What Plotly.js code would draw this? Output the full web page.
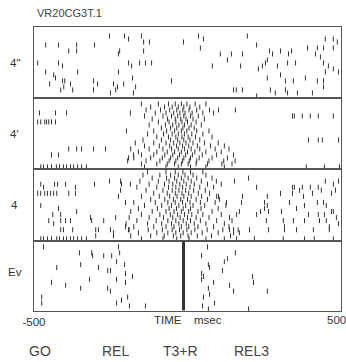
<!DOCTYPE html>
<html><head><meta charset="utf-8">
<script src="https://cdn.plot.ly/plotly-3.0.1.min.js"></script>
<style>html,body{margin:0;padding:0;background:#fff}#chart{width:346px;height:362px}</style>
</head><body><div id="chart"></div>
<script>
// ---- data (spike times in msec, trial numbers) ----
const panelNames = ['4"', "4'", '4', 'Ev'];
const xTickVals = [-500];
const xTickText = ['-500'];
const xEndLabel = '500';
const eventNames = ['GO', 'REL', 'T3+R', 'REL3'];
const evAlignTime = -13;

// Panel 4" (sparse)
const p1_t = [-254,-205,-192,-150,-143,-124,-462,-420,-361,-303,-387,-361,-221,-225,-143,-488,-420,-407,-462,-358,-192,-182,-156,-137,-117,-225,-436,-430,-407,-400,-449,-381,-306,-293,-241,-228,-208,-179,-169,-52,-413,-403,-374,-306,-251,-234,-176,
  36,52,-13,195,42,225,107,143,179,130,267,277,303,339,329,391,423,443,475,449,475,488,417,433,443,81,173,231,244,254,260,293,326,352,459,475,492,449,260,303,319,345,384,423,443,150,159,179,225,270,286,319,326,358,407,443];
const p1_r = [3,3,4,3,5,5,6,6,6,6,8,8,8,9,8,12,12,13,15,15,12,13,12,12,12,15,16,17,18,18,19,19,18,19,19,20,19,17,20,18,21,20,21,21,22,21,22,
  3,4,5,3,7,6,9,9,9,11,8,9,8,8,9,7,7,7,7,4,4,5,9,10,12,13,13,14,13,12,11,13,12,12,13,14,15,15,17,16,18,18,17,18,18,21,21,21,23,21,22,21,22,22,22,20];

// Panel 4' (sparse part)
const p2_t = [-482,-430,-394,-488,-478,-465,-459,-452,-443,-430,-186,-199,-387,-361,-345,-306,-267,-443,-420,
  -478,-469,-456,-443,-427,-417,-404,-394,-381,-371,-358,-345,-329,-192,-176,72,101,156,342,348,374,400,426,475,394,426,439,492,387,446,495];
const p2_r = [5,5,5,8,8,8,8,8,8,8,5,11,17,17,17,17,17,19,19,
  23,23,23,23,23,23,23,23,23,23,23,23,23,20,19,4,4,4,6,6,6,6,6,6,14,14,14,14,23,23,23];
// Panel 4' (burst, one list per trial, trials 2..23)
const p2_burst = [
  [-150,-95,-62,-40,-20,-2,25,60],
  [-120,-75,-50,-30,-12,8,40],
  [-135,-88,-58,-35,-15,5,30],
  [-105,-70,-45,-25,-8,15,50,85],
  [-140,-80,-52,-32,-12,10,35],
  [-115,-65,-40,-22,-5,18,55],
  [-95,-60,-38,-18,0,28],
  [-125,-72,-48,-28,-10,12,45],
  [-85,-55,-35,-15,5,22],
  [-110,-68,-42,-20,-2,30,70],
  [-130,-78,-50,-30,-10,14,50],
  [-100,-62,-38,-18,2,26,80],
  [-145,-85,-55,-32,-12,8,40],
  [-170,-110,-70,-45,-25,-5,18,55,100],
  [-140,-92,-58,-36,-16,4,32,75,120],
  [-185,-125,-80,-52,-30,-10,12,40,90,135],
  [-160,-100,-66,-42,-20,0,24,60,110],
  [-150,-110,-74,-48,-26,-6,16,48,95,150],
  [-175,-120,-82,-55,-32,-12,10,38,80,130],
  [-195,-135,-90,-60,-38,-16,6,30,70,118,155],
  [-150,-100,-66,-42,-20,2,28,65,112,145],
  [-140,-70,-30,10,60,120]
];

// Panel 4 (sparse part)
const p3_t = [-478,-469,-433,-423,-397,-365,-303,-254,-218,-215,-186,-488,-478,-465,-456,-446,-436,-426,-387,-365,-218,-225,
  -478,-420,-439,-413,-361,-202,-452,-436,-413,-397,-381,-316,-312,-273,-234,-413,-404,-374,-299,-290,-251,-241,-202,-192,-299,-241,
  -478,-469,-456,-443,-426,-417,-404,-394,-381,-371,-358,-345,-329,
  94,153,199,225,342,348,374,400,426,449,475,492,342,365,378,407,436,469,482,101,104,127,179,176,303,260,251,332,423,443,452,475,
  225,238,251,260,169,264,306,355,381,394,426,446,469,485,137,257,312,316,345,381,430,452,462,492,137,150,169,202,264,316,355,410,462,218,312,381,413,475];
const p3_r = [5,6,5,5,5,6,5,4,4,5,5,8,8,8,8,8,8,8,8,8,7,9,
  12,13,15,15,14,11,17,18,17,17,17,16,17,17,16,20,20,20,20,20,20,21,19,20,22,22,
  23,23,23,23,23,23,23,23,23,23,23,23,23,
  4,4,3,6,6,6,6,6,6,4,5,4,8,7,9,8,7,8,7,9,10,11,9,11,8,9,11,11,11,11,12,14,
  15,14,13,12,14,14,14,13,12,15,15,15,14,16,16,17,17,19,17,17,17,17,19,18,20,20,21,20,20,20,20,20,20,23,23,23,23,23];
// Panel 4 (burst, trials 1..23)
const p3_burst = [
  [-130,-70,-40,-15,10,50],
  [-145,-90,-55,-30,-8,18,60],
  [-115,-68,-42,-20,2,30,80],
  [-155,-95,-60,-35,-12,12,45],
  [-125,-75,-48,-25,-4,22,65,110],
  [-165,-100,-62,-38,-16,8,40,85],
  [-135,-80,-50,-28,-6,20,58],
  [-110,-66,-40,-18,4,35,72],
  [-150,-92,-58,-34,-12,12,46,95],
  [-120,-74,-46,-22,0,28,65],
  [-175,-105,-64,-40,-16,8,42,90],
  [-140,-84,-52,-28,-6,18,56,125],
  [-160,-98,-60,-36,-14,10,44,100],
  [-185,-115,-70,-44,-20,4,34,80],
  [-150,-90,-56,-32,-10,14,50,110,160],
  [-190,-125,-78,-48,-24,0,28,70],
  [-165,-102,-64,-38,-14,10,42,95,145],
  [-200,-130,-84,-52,-28,-4,22,60,120],
  [-175,-110,-70,-44,-20,4,34,85,135],
  [-190,-128,-82,-50,-26,-2,24,64,115,165],
  [-160,-100,-64,-38,-14,12,48,100,150],
  [-185,-120,-76,-46,-22,2,32,78,140],
  [-150,-80,-35,5,60,120,160]
];

// Panel Ev
const p4_t = [-469,-312,-309,-352,-273,-247,-225,-221,-348,-231,-205,-290,-426,-260,-251,-202,-179,-319,-231,-443,-397,-202,-348,-260,-251,-475,-475,-231,-215,-195,-189,-137,
  65,46,156,130,120,68,72,114,46,52,46,85,137,150,212,215,260,68,72,52,88,49,68,199];
const p4_r = [2,4,5,4,5,5,2,4,8,7,8,9,9,10,10,11,12,13,13,14,15,14,16,16,17,19,21,21,20,19,22,22,
  2,5,4,6,7,8,9,10,11,12,13,14,15,17,12,14,17,16,18,19,21,22,23,23];

// ---- build traces ----
function fromBurst(rows, firstTrial){ const x=[],y=[]; rows.forEach((r,i)=>r.forEach(t=>{x.push(t);y.push(i+firstTrial);})); return {x,y}; }
const tickMarker = {symbol:'line-ns', size:3.6, line:{width:1, color:'#333'}};
function tr(x,y,k){ return {type:'scatter', mode:'markers', x:x, y:y, xaxis:k===1?'x':'x'+k, yaxis:k===1?'y':'y'+k, marker:tickMarker, hoverinfo:'skip', showlegend:false}; }
const b2 = fromBurst(p2_burst, 2), b3 = fromBurst(p3_burst, 1);
const traces = [
  tr(p1_t, p1_r, 1),
  tr(p2_t, p2_r, 2), tr(b2.x, b2.y, 2),
  tr(p3_t, p3_r, 3), tr(b3.x, b3.y, 3),
  tr(p4_t, p4_r, 4),
  {type:'scatter', mode:'lines', x:[evAlignTime, evAlignTime], y:[0.2, 23.5], xaxis:'x4', yaxis:'y4', line:{width:3, color:'#333'}, hoverinfo:'skip', showlegend:false}
];

const domains = [[0.75,1],[0.5,0.75],[0.2465,0.5],[0,0.2465]];
const layout = {
  width:346, height:362, margin:{l:33.5, r:5.3, t:27, b:51},
  paper_bgcolor:'#fff', plot_bgcolor:'#fff', showlegend:false,
  font:{family:'Liberation Sans, Arial, sans-serif', size:11, color:'#333'},
  annotations:[]
};
for (let k=1;k<=4;k++){
  const xs = k===1?'xaxis':'xaxis'+k, ys = k===1?'yaxis':'yaxis'+k;
  layout[xs] = {range:[-500,500], anchor:k===1?'y':'y'+k, showline:true, mirror:true, linecolor:'#555', linewidth:1.2,
    showgrid:false, zeroline:false, ticks:'', showticklabels:k===4, fixedrange:true};
  layout[ys] = {range:[23.7,0], domain:domains[k-1], anchor:k===1?'x':'x'+k, showline:true, mirror:true, linecolor:'#555', linewidth:1.2,
    showgrid:false, zeroline:false, ticks:'', showticklabels:false, fixedrange:true};
}
layout.xaxis4.tickmode = 'array';
layout.xaxis4.tickvals = xTickVals;
layout.xaxis4.ticktext = xTickText;
layout.xaxis4.tickfont = {size:11.5, color:'#333', family:'Liberation Sans, Arial, sans-serif'};

const labelY = [0.873, 0.623, 0.373, 0.137];
panelNames.forEach((n,i)=>layout.annotations.push({text:n, xref:'paper', yref:'paper', x:-0.063, y:labelY[i], xanchor:'center', yanchor:'middle', showarrow:false, font:{size:11.5, color:'#333'}}));
layout.annotations.push({text:'VR20CG3T.1', xref:'paper', yref:'paper', x:0.004, y:1.049, xanchor:'left', yanchor:'middle', showarrow:false, font:{size:11, color:'#444'}});
layout.annotations.push({text:'TIME', xref:'paper', yref:'paper', x:0.436, y:-0.032, xanchor:'center', yanchor:'middle', showarrow:false, font:{size:11.5, color:'#333'}});
layout.annotations.push({text:'msec', xref:'paper', yref:'paper', x:0.568, y:-0.032, xanchor:'center', yanchor:'middle', showarrow:false, font:{size:11.5, color:'#333'}});
layout.annotations.push({text:xEndLabel, xref:'paper', yref:'paper', x:0.986, y:-0.032, xanchor:'center', yanchor:'middle', showarrow:false, font:{size:11.5, color:'#333'}});
const evX = [0.021, 0.265, 0.477, 0.708];
eventNames.forEach((n,i)=>layout.annotations.push({text:n, xref:'paper', yref:'paper', x:evX[i], y:-0.14, xanchor:'center', yanchor:'middle', showarrow:false, font:{size:14, color:'#444'}}));

Plotly.newPlot('chart', traces, layout, {staticPlot:true, displayModeBar:false});
</script></body></html>
